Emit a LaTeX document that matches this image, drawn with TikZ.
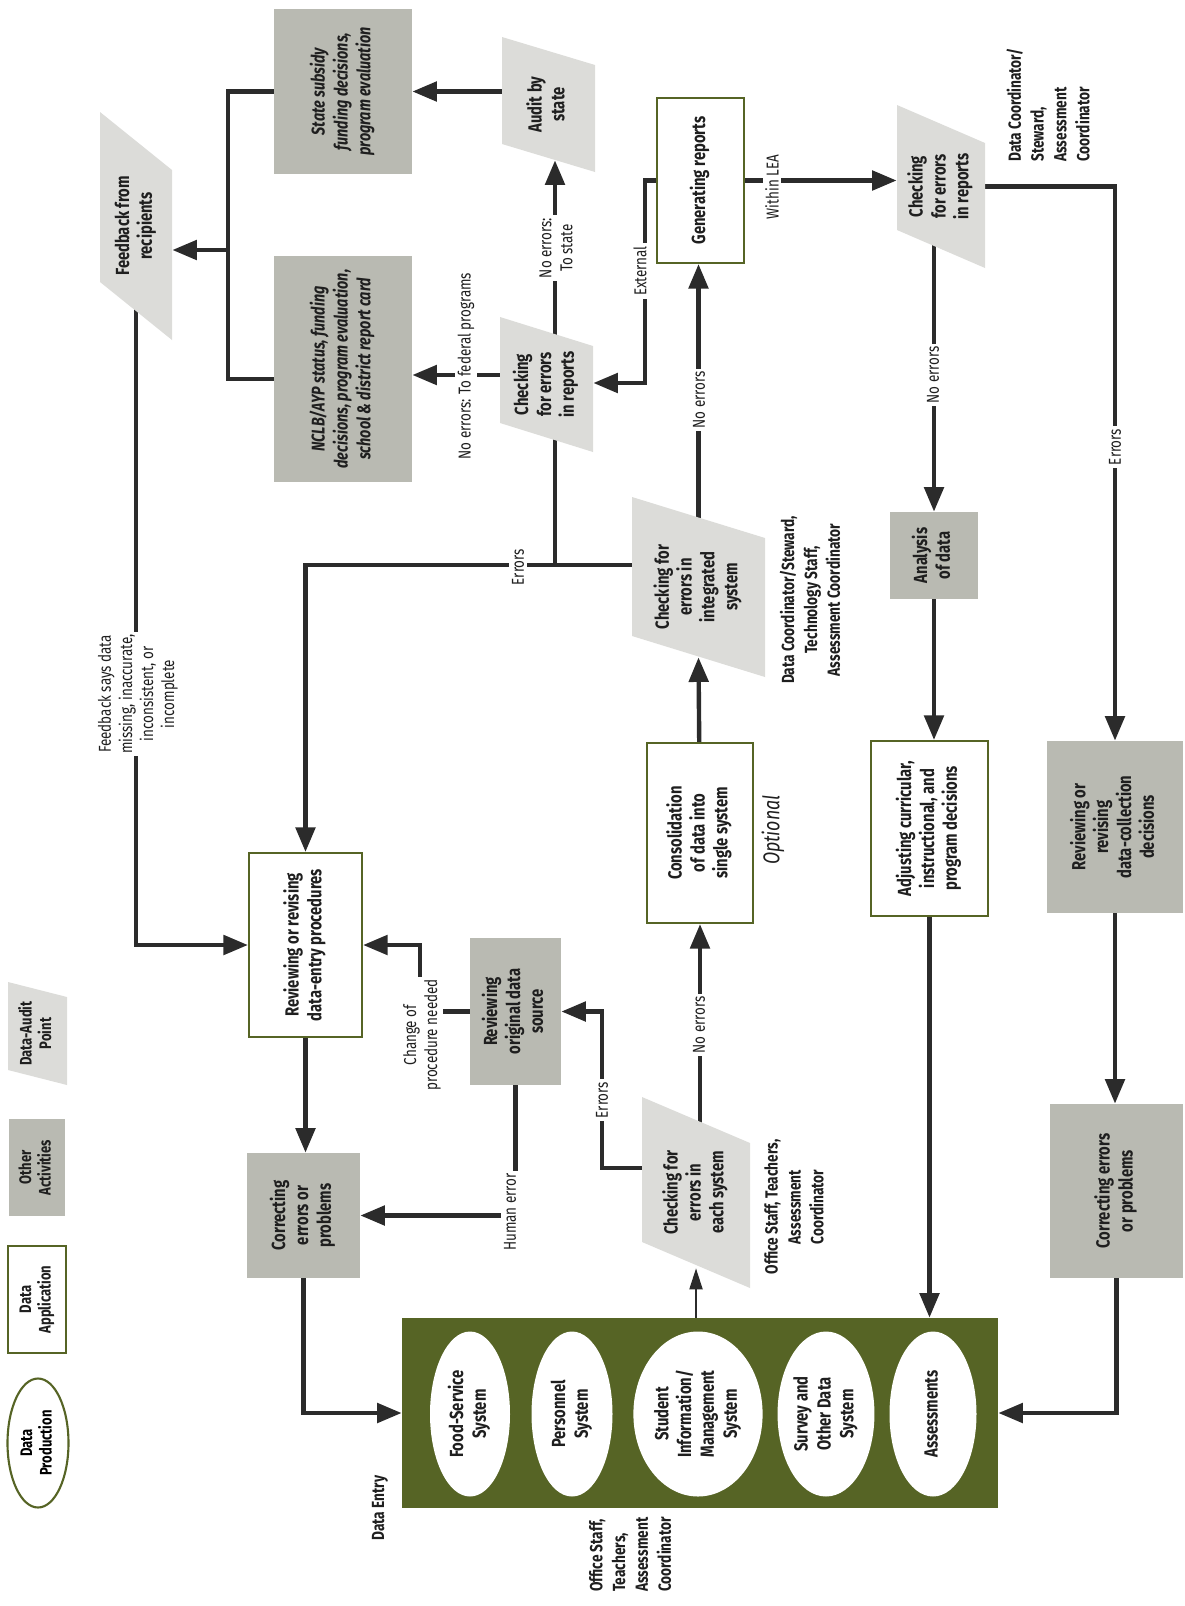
\documentclass[tikz,border=0pt]{standalone}
\usepackage{fontspec}
\setmainfont{Fira Sans}[FakeStretch=0.78]
\usepackage{graphicx}
\usetikzlibrary{arrows.meta,backgrounds,calc,shapes.geometric}
\definecolor{olivec}{HTML}{566425}
\definecolor{grayA}{HTML}{B9BAB2}
\definecolor{grayL}{HTML}{DCDCD9}
\definecolor{linec}{HTML}{2B2B2B}
\newcommand\rt[1]{\rotatebox{90}{\begin{tabular}{@{}c@{}}#1\end{tabular}}}
% name, style, x1, y1, x2, y2, text
\newcommand\bx[7]{\node[#2, minimum width={(#5-#3)*0.02cm}, minimum height={(#6-#4)*0.02cm}] (#1) at ({(#3+#5)/2},{(#4+#6)/2}) {\rt{#7}};}
% [style] name, x1, y top-left, x2, y bottom-right, slant, text
\newcommand\audit[8][]{%
\fill[grayL] (#3,#4) -- (#5,{#4+#7}) -- (#5,#6) -- (#3,{#6-#7}) -- cycle;
\node[boxfont,#1, inner sep=0, minimum width={(#5-#3)*0.02cm}, minimum height={(#6-#4)*0.02cm}] (#2) at ({(#3+#5)/2},{(#4+#6)/2}) {\rt{#8}};}
\begin{document}
\begin{tikzpicture}[x=0.02cm,y=-0.02cm,
  boxfont/.style={font=\bfseries\fontsize{10.8}{13}\selectfont, text=black!88},
  itfont/.style={font=\bfseries\itshape\fontsize{10.5}{13}\selectfont, text=black!88},
  legfont/.style={font=\bfseries\fontsize{9.5}{11}\selectfont},
  gbox/.style={fill=grayA, inner sep=0, boxfont},
  wbox/.style={fill=white, draw=olivec, line width=1.2pt, inner sep=0, boxfont},
  ell/.style={ellipse, fill=white, inner sep=0, boxfont},
  lbl/.style={fill=white, inner sep=1.5pt, rotate=90, align=center, font=\fontsize{9.8}{12}\selectfont, text=black!88},
  plbl/.style={rotate=90, align=center, font=\bfseries\fontsize{10}{13}\selectfont, text=black!88},
  conn/.style={draw=linec, line width=2.5pt},
  thinconn/.style={draw=linec, line width=0.9pt},
  arr/.style={-{Triangle[length=14pt,width=11pt]}},
  arrthin/.style={-{Triangle[length=12pt,width=7.5pt]}}]
\useasboundingbox (0,0) rectangle (1185,1606);

% ---------- legend ----------
\audit[legfont]{legA}{8}{982}{67}{1085}{15}{Data-Audit\\Point}
\bx{legO}{gbox,legfont}{9}{1119}{65}{1216}{Other\\Activities}
\bx{legD}{wbox,legfont}{8}{1246}{66}{1353}{Data\\Application}
\node[ellipse, draw=olivec, line width=1.2pt, fill=white, inner sep=0, minimum width=61*0.02cm, minimum height=129*0.02cm, legfont] (legP) at (38,1443) {\rt{Data\\Production}};

% ---------- other activities (gray) ----------
\bx{sub}{gbox,itfont}{274}{9}{412}{174}{State subsidy\\funding decisions,\\program evaluation}
\bx{nclb}{gbox,itfont}{274}{256}{412}{482}{NCLB/AYP status, funding\\decisions, program evaluation,\\school \& district report card}
\bx{ana}{gbox}{890}{512}{978}{599}{Analysis\\of data}
\bx{rods}{gbox}{470}{938}{561}{1085}{Reviewing\\original data\\source}
\bx{corL}{gbox}{247}{1153}{360}{1278}{Correcting\\errors or\\problems}
\bx{rdc}{gbox}{1047}{741}{1183}{913}{Reviewing or\\revising\\data-collection\\decisions}
\bx{corR}{gbox}{1050}{1104}{1183}{1278}{Correcting errors\\or problems}

% ---------- data application (white) ----------
\bx{gen}{wbox}{657}{98}{744}{263}{Generating reports}
\bx{con}{wbox}{647}{743}{753}{923}{Consolidation\\of data into\\single system}
\bx{adj}{wbox}{871}{741}{988}{916}{Adjusting curricular,\\instructional, and\\program decisions}
\bx{rde}{wbox}{249}{853}{362}{1037}{Reviewing or revising\\data-entry procedures}

% ---------- data-audit points ----------
\audit{fb}{100}{112}{172}{340}{58}{Feedback from\\recipients}
\audit{aud}{502}{37}{595}{172}{28}{Audit by\\state}
\audit{cf}{500}{317}{593}{452}{29}{Checking\\for errors\\in reports}
\audit{cl}{897}{105}{985}{268}{38}{Checking\\for errors\\in reports}
\audit{ci}{632}{497}{765}{677}{41}{Checking for\\errors in\\integrated\\system}
\audit{ce}{642}{1097}{750}{1288}{46}{Checking for\\errors in\\each system}

% ---------- data entry ----------
\node[fill=olivec, inner sep=0, minimum width=596*0.02cm, minimum height=190*0.02cm] (green) at (700,1413) {};
\node[ell, minimum width=80*0.02cm, minimum height=165*0.02cm] (food) at (470,1414) {\rt{Food-Service\\System}};
\node[ell, minimum width=81*0.02cm, minimum height=165*0.02cm] (pers) at (572,1414) {\rt{Personnel\\System}};
\node[ell, minimum width=123*0.02cm, minimum height=165*0.02cm] (stud) at (698,1414) {\rt{Student\\Information/\\Management\\System}};
\node[ell, minimum width=89*0.02cm, minimum height=165*0.02cm] (surv) at (826,1414) {\rt{Survey and\\Other Data\\System}};
\node[ell, minimum width=87*0.02cm, minimum height=165*0.02cm] (asse) at (933,1414) {\rt{Assessments}};

% ---------- helper coordinates ----------
\coordinate (j1) at (228,250);
\coordinate (ej) at (555,565);
\coordinate (e7) at (602,1168);
\coordinate (e8) at (420,945);
\coordinate (e20) at (645,383);
\coordinate (e21) at (480,375);

% ---------- connectors ----------
\begin{pgfonlayer}{background}
\draw[conn] (sub.center) -| (j1) |- ($(nclb.center)+(0,10)$);
\draw[conn,arr] (j1) -- (j1 -| fb.east);
\draw[conn,arr] (fb.center) |- (rde.west);
\draw[conn,arr] ($(ci.center)+(0,-22)$) -| (rde.north);
\draw[conn] (ej) -- (ej |- cf.center);
\draw[conn,arr] (ci.center) -- (ci.center |- gen.south);
\draw[conn,arr] (con.center) -- ($(ci.south)+(0,-20)$);
\draw[conn,arr] (ce.center -| con.south) -- (con.south);
\draw[conn,arr] (ce.center |- e7) -- (e7) |- (rods.east);
\draw[conn,arr] (rods.center) -| (e8) -- (e8 -| rde.east);
\draw[conn,arr] (rods.center) |- (corL.east);
\draw[conn,arr] (rde.center) -- (rde.center |- corL.north);
\draw[conn,arr] (corL.center) |- (green.west);
\draw[thinconn,arrthin] (green.north -| ce.south) -- ($(ce.south)+(0,-20)$);
\draw[conn,arr] (adj.center) -- (adj.center |- green.north);
\draw[conn,arr] (ana.center) -- (ana.center |- adj.north);
\draw[conn,arr] (cl.center -| ana.center) -- (ana.north);
\draw[conn,arr] (gen.center) -- (gen.center -| cl.west);
\draw[conn,arr] (cl.center) -| (rdc.north);
\draw[conn,arr] (rdc.center) -- (rdc.center |- corR.north);
\draw[conn,arr] (corR.center) |- (green.east);
\draw[conn,arr] (gen.center) -| (e20) -- (e20 -| cf.east);
\draw[conn,arr] (cf.center |- e21) -- (e21 -| nclb.east);
\draw[conn,arr] (ej |- cf.center) -- ($(ej |- aud.south)+(0,-12)$);
\draw[conn,arr] (sub.center -| aud.center) -- (sub.east);
\end{pgfonlayer}

% ---------- connector labels ----------
\node[lbl] (l1) at (138,694) {Feedback says data\\missing, inaccurate,\\inconsistent, or\\incomplete};
\node[lbl] (l2) at (518,567) {Errors};
\node[lbl] (l3) at (466,366) {No errors: To federal programs};
\node[lbl] (l4) at (556,248) {No errors:\\To state};
\node[lbl] (l5) at (640,271) {External};
\node[lbl] (l6) at (772,187) {Within LEA};
\node[lbl] (l7) at (699,400) {No errors};
\node[lbl] (l8) at (933,375) {No errors};
\node[lbl] (l9) at (1115,447) {Errors};
\node[lbl] (l10) at (422,1035) {Change of\\procedure needed};
\node[lbl] (l11) at (510,1212) {Human error};
\node[lbl] (l12) at (602,1100) {Errors};
\node[lbl] (l13) at (699,1025) {No errors};

% ---------- people / other text ----------
\node[plbl, anchor=west, align=left] (p1) at (1048,168) {Data Coordinator/\\Steward,\\Assessment\\Coordinator};
\node[plbl] (p2) at (810,600) {Data Coordinator/Steward,\\Technology Staff,\\Assessment Coordinator};
\node[plbl] (p3) at (794,1207) {Office Staff, Teachers,\\Assessment\\Coordinator};
\node[plbl, anchor=west, align=left] (p4) at (630,1598) {Office Staff,\\Teachers,\\Assessment\\Coordinator};
\node[plbl] (p5) at (380,1508) {Data Entry};
\node[rotate=90, font=\itshape\fontsize{13}{15}\selectfont, text=black!88] (p6) at (773,830) {Optional};
\end{tikzpicture}
\end{document}
